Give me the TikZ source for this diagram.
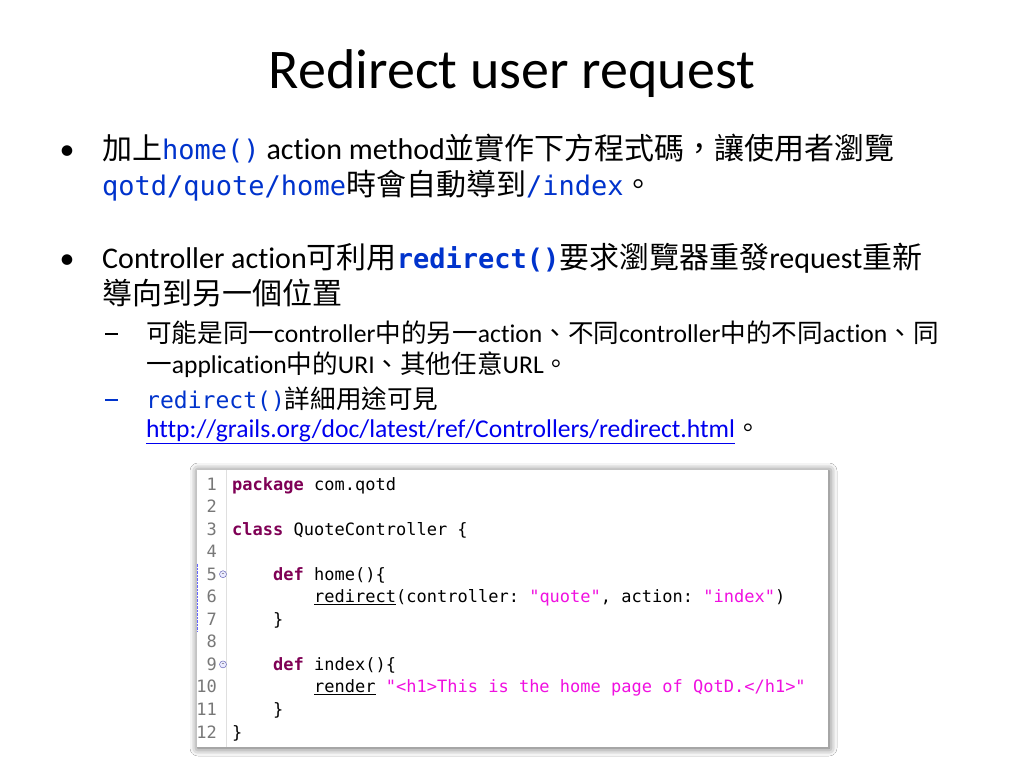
\documentclass[tikz,border=0pt]{standalone}
\usepackage{fontspec}
\setmainfont{Carlito}[Ligatures={TeX,NoCommon}]
\setmonofont{DejaVu Sans Mono}[Scale=0.9]
\newfontfamily\cjk{Noto Sans CJK TC}
\usetikzlibrary{shadows.blur}
\newcommand{\zh}[1]{{\cjk #1}}
\newcommand{\cd}[1]{{\color{codeblue}\ttfamily #1}}
\newcommand{\subdash}{\rule[7pt]{13pt}{2.2pt}}
\definecolor{codeblue}{HTML}{0033CC}
\definecolor{linkblue}{HTML}{0000EE}
\definecolor{kwpurple}{HTML}{7F0055}
\definecolor{strpink}{HTML}{F010E0}
\definecolor{lngray}{HTML}{787878}
\newcommand{\kw}[1]{{\color{kwpurple}\bfseries #1}}
\newcommand{\str}[1]{{\color{strpink}#1}}

\begin{document}
\begin{tikzpicture}[x=1pt,y=-1pt,
	line/.style={anchor=base west, inner sep=0pt, font=\fontsize{30}{36}\selectfont},
	subline/.style={anchor=base west, inner sep=0pt, font=\fontsize{25.6}{30}\selectfont},
	lnum/.style={anchor=base east, inner sep=0pt, text=lngray, font=\ttfamily\fontsize{18.9}{22}\selectfont},
	code/.style={anchor=base west, inner sep=0pt, font=\ttfamily\fontsize{18.9}{22}\selectfont}]
	\useasboundingbox[fill=white] (0,0) rectangle (1024,768);
	% title
	\node[anchor=base, inner sep=0pt, font=\fontsize{56}{64}\selectfont] (title) at (512,88) {Redirect user request};
	% first bullet
	\node[line, anchor=base] (b1) at (67,159) {\textbullet};
	\node[line] (b1l1) at (102,159) {\zh{加上}\cd{home()} action method\zh{並實作下方程式碼，讓使用者瀏覽}};
	\node[line] (b1l2) at (102,195) {\cd{qotd/quote/home}\zh{時會自動導到}\cd{/index}\zh{。}};
	% second bullet
	\node[line, anchor=base] (b2) at (67,268) {\textbullet};
	\node[line] (b2l1) at (102,268) {Controller action\zh{可利用}\cd{\bfseries redirect()}\zh{要求瀏覽器重發}request\zh{重新}};
	\node[line] (b2l2) at (102,304) {\zh{導向到另一個位置}};
	\node[subline] (s1) at (105,342) {\subdash};
	\node[subline] (s1l1) at (146,342) {\zh{可能是同一}controller\zh{中的另一}action\zh{、不同}controller\zh{中的不同}action\zh{、同}};
	\node[subline] (s1l2) at (146,373) {\zh{一}application\zh{中的}URI\zh{、其他任意}URL\zh{。}};
	\node[subline, text=codeblue] (s2) at (105,408) {\subdash};
	\node[subline] (s2l1) at (146,408) {\cd{redirect()}\zh{詳細用途可見}};
	\node[subline] (s2l2) at (146,437) {{\color{linkblue}\underline{http://grails.org/doc/latest/ref/Controllers/redirect.html}}\zh{。}};
	% code screenshot
	\node[draw=none, fill=white, blur shadow={shadow xshift=1pt, shadow yshift=-1pt, shadow blur radius=8pt, shadow opacity=70},
		minimum width=631pt, minimum height=277pt, inner sep=0pt] (box) at (512.5,608.5) {};
	\draw[gray!25] (box.north west) ++(29,0) coordinate (gt) -- (gt |- box.south);
	\draw[blue!60, densely dotted] (box.west) ++(0,-45) -- ++(0,68);
	\foreach \n in {1,...,12}
		\node[lnum] (n\n) at (217,{490+22.55*(\n-1)}) {\n};
	\foreach \n in {5,9}
		\node[circle, draw=blue!35!gray, fill=blue!8, inner sep=0pt, minimum size=7pt,
			font=\fontsize{6}{6}\selectfont] (f\n) at (223,{484+22.55*(\n-1)}) {--};
	\node[code] (c1) at (232,490) {\kw{package} com.qotd};
	\node[code] (c3) at (232,535.1) {\kw{class} QuoteController \{};
	\node[code] (c5) at (273,580.2) {\kw{def} home()\{};
	\node[code] (c6) at (314,602.75) {\underline{redirect}(controller: \str{"quote"}, action: \str{"index"})};
	\node[code] (c7) at (273,625.3) {\}};
	\node[code] (c9) at (273,670.4) {\kw{def} index()\{};
	\node[code] (c10) at (314,692.95) {\underline{render} \str{"<h1>This is the home page of QotD.</h1>"}};
	\node[code] (c11) at (273,715.5) {\}};
	\node[code] (c12) at (232,738.05) {\}};
\end{tikzpicture}
\end{document}
